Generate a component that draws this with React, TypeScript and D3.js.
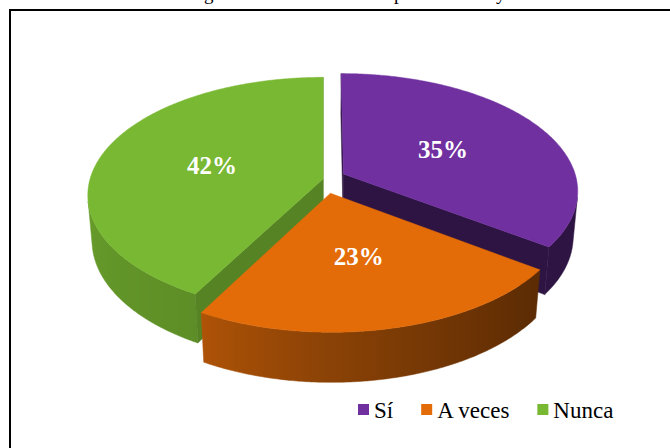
import React, { useEffect, useRef } from "react";
import * as d3 from "d3";

// data
const categories = ["Sí", "A veces", "Nunca"];
const values = [35, 23, 42];
const colors = ["#7030A0", "#E36C09", "#79B832"];
const explodeBy = [22, 29, 1]; // how far each slice is pulled out of the pie
const titleGlyphs = ["g", "p", "y"]; // only the descenders of the title show above the frame

const W = 670;
const H = 448;

// 3D view of the pie
const cx = 324;
const cy = 179;
const R = 233;
const thick = 53;
const tilt = Math.asin(0.496);
const persp = 1471;
const labelRadius = 0.5; // labels sit halfway out along the slice's middle angle

const cosT = Math.cos(tilt);
const sinT = Math.sin(tilt);

function project(X: number, Y: number, Z: number): [number, number] {
  const depth = Z * cosT + Y * sinT;
  const f = persp / (persp - depth);
  return [cx + X * f, cy + (Z * sinT - Y * cosT) * f];
}

// shading of the outer wall by clock angle (degrees), and of the cut faces by their normal angle
const wallShade = d3.scaleLinear().domain([90, 130, 210, 270]).range([2.5, 2.5, 0.72, 0.42]).clamp(true);
const cutShade = d3.scaleLinear().domain([118, 216]).range([0.93, 2.5]).clamp(true);

export default function App() {
  const ref = useRef<SVGSVGElement>(null);

  useEffect(() => {
    const svg = d3.select(ref.current);
    svg.selectAll("*").remove();

    svg.append("rect").attr("width", W).attr("height", H).attr("fill", "#fff");

    // cut off title
    svg.append("g")
      .attr("font-family", "'Liberation Serif', 'Times New Roman', serif")
      .attr("font-size", 19)
      .selectAll("text")
      .data(titleGlyphs)
      .join("text")
      .attr("x", (d, i) => [204, 394, 496][i])
      .attr("y", 0)
      .text(d => d);

    // frame
    svg.append("rect")
      .attr("x", 10).attr("y", 10)
      .attr("width", 720).attr("height", 500)
      .attr("fill", "none").attr("stroke", "#000").attr("stroke-width", 2);

    const defs = svg.append("defs");
    const line = d3.line();
    const pie = d3.pie<number>().sort(null).startAngle(0).endAngle(2 * Math.PI);
    const arcs = pie(values);

    const slices = arcs.map((a, i) => {
      const mid = (a.startAngle + a.endAngle) / 2;
      const X0 = explodeBy[i] * Math.sin(mid);
      const Z0 = -explodeBy[i] * Math.cos(mid);
      return { a, i, mid, X0, Z0 };
    }).sort((p, q) => p.Z0 - q.Z0);

    const chart = svg.append("g");
    const labelLayer = svg.append("g");

    slices.forEach(({ a, i, mid, X0, Z0 }) => {
      const a0 = a.startAngle, a1 = a.endAngle;
      const base = colors[i];
      const rim = (t: number, Y: number) => project(X0 + R * Math.sin(t), Y, Z0 - R * Math.cos(t));
      const n = Math.ceil((a1 - a0) / (Math.PI / 360));
      const angles = d3.range(n + 1).map(k => a0 + ((a1 - a0) * k) / n);
      const apexTop = project(X0, 0, Z0);
      const apexBot = project(X0, -thick, Z0);
      const g = chart.append("g");

      // outer wall, visible part only
      const vis = angles.filter(t => -X0 * Math.sin(t) + (Z0 - persp * cosT) * Math.cos(t) - R > 0);
      if (vis.length > 1) {
        const pts = vis.map(t => rim(t, 0)).concat(vis.map(t => rim(t, -thick)).reverse());
        const xs = vis.map(t => rim(t, -thick / 2)[0]);
        const x1 = d3.min(xs)!, x2 = d3.max(xs)!;
        const id = `wall${i}`;
        const grad = defs.append("linearGradient").attr("id", id)
          .attr("gradientUnits", "userSpaceOnUse")
          .attr("x1", x1).attr("x2", x2).attr("y1", 0).attr("y2", 0);
        const step = Math.max(1, Math.floor(vis.length / 30));
        vis.filter((t, k) => k % step === 0 || k === vis.length - 1)
          .map(t => ({ x: rim(t, -thick / 2)[0], deg: (t * 180) / Math.PI }))
          .sort((p, q) => p.x - q.x)
          .forEach(s => grad.append("stop")
            .attr("offset", (s.x - x1) / (x2 - x1 || 1))
            .attr("stop-color", d3.color(base)!.darker(wallShade(s.deg)).formatHex()));
        g.append("path").attr("d", line(pts) + "Z").attr("fill", `url(#${id})`)
          .attr("stroke", `url(#${id})`).attr("stroke-width", 0.5);
      }

      // cut faces
      const faces = [
        { t: a0, nx: -Math.cos(a0), nz: -Math.sin(a0), nAng: ((a0 * 180) / Math.PI) - 90 },
        { t: a1, nx: Math.cos(a1), nz: Math.sin(a1), nAng: ((a1 * 180) / Math.PI) + 90 },
      ];
      faces.forEach(fc => {
        const dot = fc.nx * -X0 + fc.nz * (persp * cosT - Z0);
        if (dot <= 0) return;
        const pts = [apexTop, rim(fc.t, 0), rim(fc.t, -thick), apexBot];
        const c = d3.color(base)!.darker(cutShade(((fc.nAng % 360) + 360) % 360)).formatHex();
        g.append("path").attr("d", line(pts) + "Z").attr("fill", c).attr("stroke", c).attr("stroke-width", 0.5);
      });

      // top face
      const top = [apexTop, ...angles.map(t => rim(t, 0))];
      g.append("path").attr("d", line(top) + "Z").attr("fill", base).attr("stroke", base).attr("stroke-width", 0.5);

      const rl = R * labelRadius;
      const [lx, ly] = project(X0 + rl * Math.sin(mid), 0, Z0 - rl * Math.cos(mid));
      labelLayer.append("text")
        .attr("x", lx).attr("y", ly).attr("dy", "0.35em")
        .attr("text-anchor", "middle")
        .attr("font-family", "'Liberation Serif', 'Times New Roman', serif")
        .attr("font-weight", "bold")
        .attr("font-size", 25)
        .attr("fill", "#fff")
        .text(`${values[i]}%`);
    });

    // legend
    const legend = svg.append("g")
      .attr("font-family", "'Liberation Serif', 'Times New Roman', serif")
      .attr("font-size", 23);
    let x = 358;
    categories.forEach((c, i) => {
      legend.append("rect").attr("x", x).attr("y", 404).attr("width", 11).attr("height", 11).attr("fill", colors[i]);
      const t = legend.append("text").attr("x", x + 16).attr("y", 418).attr("fill", "#000").text(c);
      x += 16 + (t.node() as SVGTextElement).getComputedTextLength() + 28;
    });
  }, []);

  return (
    <div style={{ position: "absolute", left: 0, top: 0 }}>
      <svg ref={ref} width={W} height={H} style={{ display: "block" }} />
    </div>
  );
}
